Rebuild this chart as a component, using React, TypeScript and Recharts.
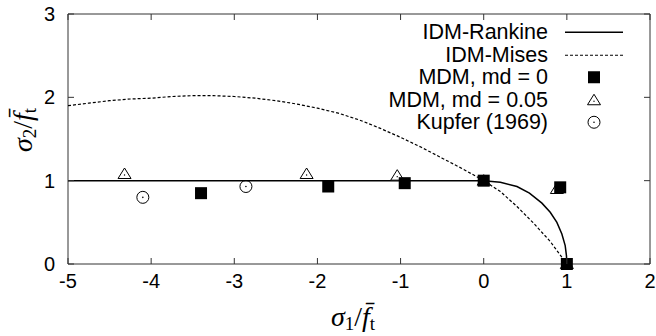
import React from "react";
import { ScatterChart, Scatter, XAxis, YAxis, Legend } from "recharts";

// values
const xTicks = [-5, -4, -3, -2, -1, 0, 1, 2];
const yTicks = [0, 1, 2, 3];

const rankineX = [-5, 0, 0.2, 0.4, 0.55, 0.7, 0.8, 0.88, 0.94, 0.98, 0.995, 1];
const rankineY = [1, 1, 0.98, 0.93, 0.85, 0.73, 0.62, 0.5, 0.36, 0.22, 0.1, 0];

const misesX = [-5, -4.75, -4.5, -4.25, -4, -3.75, -3.5, -3.25, -3, -2.75, -2.5, -2.25, -2, -1.75, -1.5, -1.25, -1, -0.75, -0.5, -0.25, 0, 0.2, 0.4, 0.6, 0.8, 1];
const misesY = [1.9, 1.93, 1.96, 1.98, 1.99, 2.01, 2.02, 2.02, 2.01, 1.99, 1.96, 1.92, 1.87, 1.81, 1.73, 1.63, 1.52, 1.4, 1.27, 1.14, 1.0, 0.87, 0.69, 0.49, 0.27, 0];

const mdm0X = [-3.4, -1.87, -0.95, 0, 0.92, 1.0];
const mdm0Y = [0.85, 0.93, 0.97, 1.0, 0.92, 0];

const mdm005X = [-4.32, -2.13, -1.04, 0, 0.88, 1.0];
const mdm005Y = [1.08, 1.08, 1.06, 1.0, 0.9, 0];

const kupferX = [-4.1, -2.86];
const kupferY = [0.8, 0.93];

const zip = (xs: number[], ys: number[]) => xs.map((x, i) => ({ x, y: ys[i] }));

const X_MIN = -5;
const X_MAX = 2;
const Y_MIN = 0;
const Y_MAX = 3;

// chart layout
const W = 656;
const H = 336;
const MARGIN = { top: 14, right: 6, left: 0, bottom: 0 };
const Y_AXIS_W = 68;
const X_AXIS_H = 72;
const PLOT_W = W - MARGIN.left - MARGIN.right - Y_AXIS_W;
const PLOT_H = H - MARGIN.top - MARGIN.bottom - X_AXIS_H;

const SANS = "'Liberation Sans', Arial, sans-serif";
const SERIF = "'Liberation Serif', 'DejaVu Serif', serif";
const FRAME = "#333";

const Square = ({ cx, cy }: any) => <rect x={cx - 6} y={cy - 6} width={12} height={12} fill="#000" />;

const Triangle = ({ cx, cy }: any) => (
  <g>
    <polygon points={`${cx},${cy - 6} ${cx - 6.5},${cy + 4.5} ${cx + 6.5},${cy + 4.5}`} fill="#fff" stroke="#000" strokeWidth={1} />
    <circle cx={cx} cy={cy + 1} r={0.7} fill="#000" />
  </g>
);

const Circle = ({ cx, cy }: any) => (
  <g>
    <circle cx={cx} cy={cy} r={6} fill="none" stroke="#000" strokeWidth={1} />
    <circle cx={cx} cy={cy} r={0.8} fill="#000" />
  </g>
);

const NoDot = () => null;

// bottom tick + mirrored top tick (gnuplot style frame); the last one closes the right edge
const BottomTick = ({ x, y, payload }: any) => (
  <g>
    <line x1={x} x2={x} y1={y} y2={y - 6} stroke={FRAME} />
    <line x1={x} x2={x} y1={y - PLOT_H} y2={y - PLOT_H + 6} stroke={FRAME} />
    {payload.value === X_MAX && <line x1={x} x2={x} y1={y} y2={y - PLOT_H} stroke={FRAME} />}
    <text x={x} y={y + 24} textAnchor="middle" fontFamily={SANS} fontSize={20} fill="#000">
      {payload.value}
    </text>
  </g>
);

// left tick + mirrored right tick; the top one closes the top edge
const LeftTick = ({ x, y, payload }: any) => (
  <g>
    <line x1={x} x2={x + 6} y1={y} y2={y} stroke={FRAME} />
    <line x1={x + PLOT_W} x2={x + PLOT_W - 6} y1={y} y2={y} stroke={FRAME} />
    {payload.value === Y_MAX && <line x1={x} x2={x + PLOT_W} y1={y} y2={y} stroke={FRAME} />}
    <text x={x - 13} y={y + 7} textAnchor="end" fontFamily={SANS} fontSize={20} fill="#000">
      {payload.value}
    </text>
  </g>
);

const XTitle = ({ viewBox }: any) => (
  <text x={viewBox.x + viewBox.width / 2 - 6} y={viewBox.y + 62} textAnchor="middle" fontFamily={SERIF} fontSize={28} fill="#000">
    <tspan fontStyle="italic">σ</tspan>
    <tspan fontSize={19} dy={4}>1</tspan>
    <tspan dy={-4}>/</tspan>
    <tspan fontStyle="italic">f̄</tspan>
    <tspan fontSize={19} dy={4}>t</tspan>
  </text>
);

const YTitle = ({ viewBox }: any) => {
  const cx = 32;
  const cy = viewBox.y + viewBox.height / 2 - 9;
  return (
    <text x={cx} y={cy} transform={`rotate(-90 ${cx} ${cy})`} textAnchor="middle" fontFamily={SERIF} fontSize={28} fill="#000">
      <tspan fontStyle="italic">σ</tspan>
      <tspan fontSize={19} dy={4}>2</tspan>
      <tspan dy={-4}>/</tspan>
      <tspan fontStyle="italic">f̄</tspan>
      <tspan fontSize={19} dy={4}>t</tspan>
    </text>
  );
};

const legendRows = [
  { label: "IDM-Rankine", kind: "solid" },
  { label: "IDM-Mises", kind: "dashed" },
  { label: "MDM, md = 0", kind: "square" },
  { label: "MDM, md = 0.05", kind: "triangle" },
  { label: "Kupfer (1969)", kind: "circle" },
];

const LegendSample = ({ kind }: { kind: string }) => {
  const cx = 29;
  const cy = 11.25;
  return (
    <svg width={58} height={22.5} style={{ marginLeft: 17, display: "block" }}>
      {kind === "solid" && <line x1={0} x2={58} y1={cy} y2={cy} stroke="#000" strokeWidth={1.5} />}
      {kind === "dashed" && <line x1={0} x2={58} y1={cy} y2={cy} stroke="#000" strokeWidth={1.2} strokeDasharray="3 2" />}
      {kind === "square" && <Square cx={cx} cy={cy} />}
      {kind === "triangle" && <Triangle cx={cx} cy={cy} />}
      {kind === "circle" && <Circle cx={cx} cy={cy} />}
    </svg>
  );
};

const renderLegend = () => (
  <div>
    {legendRows.map((r) => (
      <div key={r.label} style={{ display: "flex", alignItems: "center", justifyContent: "flex-end", height: 22.5 }}>
        <span style={{ fontFamily: SANS, fontSize: 21.5, lineHeight: "22px", color: "#000", whiteSpace: "nowrap" }}>{r.label}</span>
        <LegendSample kind={r.kind} />
      </div>
    ))}
  </div>
);

export default function App() {
  return (
    <div style={{ position: "absolute", left: 0, top: 0, background: "#fff" }}>
      <ScatterChart width={W} height={H} margin={MARGIN}>
        <XAxis
          type="number"
          dataKey="x"
          domain={[X_MIN, X_MAX]}
          ticks={xTicks}
          interval={0}
          height={X_AXIS_H}
          tickSize={0}
          tickMargin={0}
          tickLine={false}
          axisLine={{ stroke: FRAME }}
          tick={<BottomTick />}
          label={<XTitle />}
        />
        <YAxis
          type="number"
          dataKey="y"
          domain={[Y_MIN, Y_MAX]}
          ticks={yTicks}
          interval={0}
          width={Y_AXIS_W}
          tickSize={0}
          tickMargin={0}
          tickLine={false}
          axisLine={{ stroke: FRAME }}
          tick={<LeftTick />}
          label={<YTitle />}
        />
        <Legend
          layout="vertical"
          align="center"
          verticalAlign="middle"
          wrapperStyle={{ left: 385, top: 21, width: 238 }}
          content={renderLegend}
        />
        <Scatter name="IDM-Rankine" data={zip(rankineX, rankineY)} line={{ stroke: "#000", strokeWidth: 1.5 }} lineType="joint" shape={<NoDot />} isAnimationActive={false} />
        <Scatter name="IDM-Mises" data={zip(misesX, misesY)} line={{ stroke: "#000", strokeWidth: 1.2, strokeDasharray: "3 2" }} lineType="joint" shape={<NoDot />} isAnimationActive={false} />
        <Scatter name="Kupfer (1969)" data={zip(kupferX, kupferY)} shape={<Circle />} isAnimationActive={false} />
        <Scatter name="MDM, md = 0.05" data={zip(mdm005X, mdm005Y)} shape={<Triangle />} isAnimationActive={false} />
        <Scatter name="MDM, md = 0" data={zip(mdm0X, mdm0Y)} shape={<Square />} isAnimationActive={false} />
      </ScatterChart>
    </div>
  );
}
